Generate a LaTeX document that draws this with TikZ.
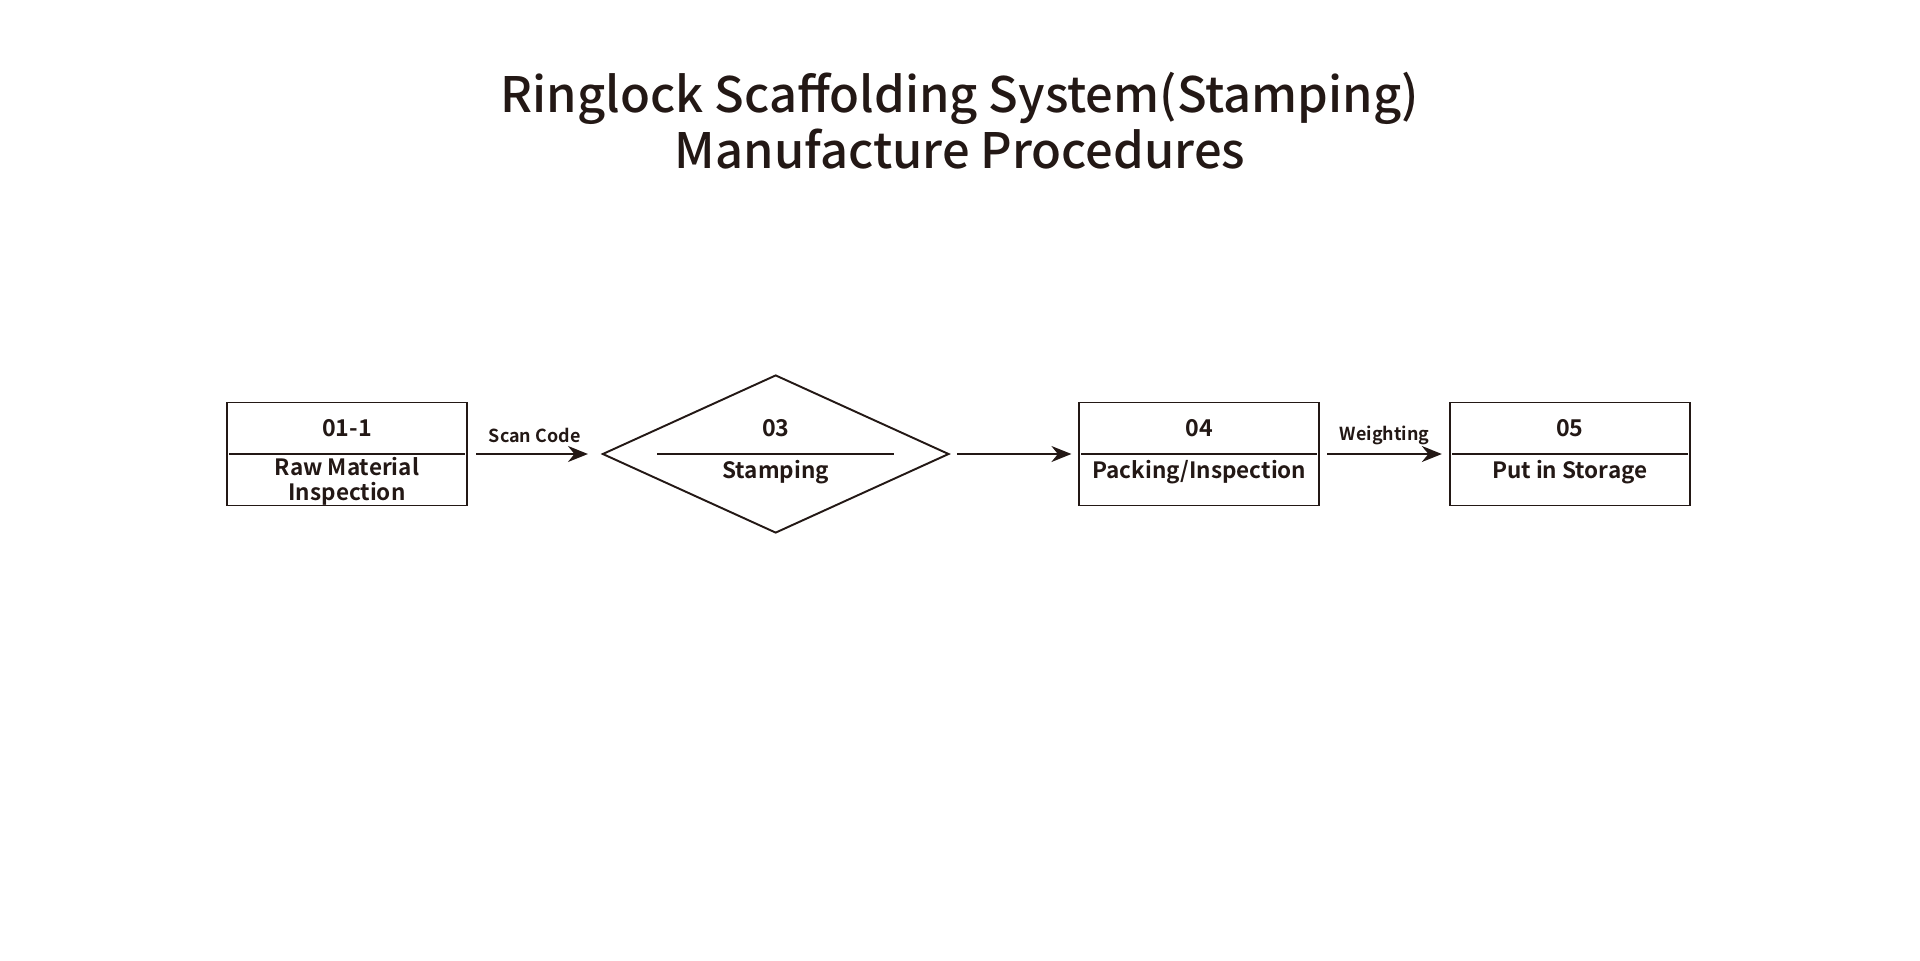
\documentclass[tikz,border=0pt]{standalone}
\usepackage{fontspec}
\setmainfont{Noto Sans CJK SC Medium}
\newfontfamily\heavyfont{Noto Sans CJK SC Bold}
\usepackage{xcolor}
\usepackage{tikz}
\usetikzlibrary{arrows.meta,positioning,shapes.geometric}
\definecolor{Ink}{HTML}{231815}
\tikzset{
  stage/.style={draw=Ink,line width=0.55pt,minimum width=2.4cm,minimum height=1.03cm,inner sep=0pt},
  decide/.style={diamond,draw=Ink,line width=0.55pt,minimum width=3.465cm,minimum height=1.58cm,inner sep=0pt},
  divider/.style={draw=Ink,line width=0.55pt},
  stagenum/.style={font=\heavyfont\fontsize{6.6}{7.5}\selectfont,text=Ink,inner sep=0pt},
  stagename/.style={font=\heavyfont\fontsize{6.4}{7}\selectfont,text=Ink,align=center,inner sep=0pt},
  arrow/.style={-{Stealth[length=2mm,width=1.6mm]},line width=0.55pt,draw=Ink},
  steplabel/.style={font=\heavyfont\fontsize{5.1}{6}\selectfont,text=Ink,inner sep=0pt},
  title/.style={font=\fontsize{13.9}{16}\selectfont,text=Ink,align=center}
}
\begin{document}
\begin{tikzpicture}
  \useasboundingbox (0,0) rectangle (19.2,9.6);
  \node[title] (head) at (9.6,8.39) {Ringlock Scaffolding System(Stamping)\\Manufacture Procedures};

  \node[stage] (raw) at (3.47,5.06) {};
  \node[decide,right=1.335cm of raw] (stamp) {};
  \node[stage,right=1.285cm of stamp] (pack) {};
  \node[stage,right=1.285cm of pack] (store) {};

  % dividers
  \draw[divider] ([xshift=0.3mm]raw.west) -- ([xshift=-0.3mm]raw.east);
  \draw[divider] ([xshift=5.6mm]stamp.west) -- ([xshift=-5.6mm]stamp.east);
  \draw[divider] ([xshift=0.3mm]pack.west) -- ([xshift=-0.3mm]pack.east);
  \draw[divider] ([xshift=0.3mm]store.west) -- ([xshift=-0.3mm]store.east);

  % texts
  \node[stagenum,above=2.6mm of raw.center,anchor=center] (rawnum) {01-1};
  \node[stagename,below=2.7mm of raw.center,anchor=center] (rawname) {Raw Material\\Inspection};
  \node[stagenum,above=2.6mm of stamp.center,anchor=center] (stampnum) {03};
  \node[stagename,below=1.85mm of stamp.center,anchor=center] (stampname) {Stamping};
  \node[stagenum,above=2.6mm of pack.center,anchor=center] (packnum) {04};
  \node[stagename,below=1.85mm of pack.center,anchor=center] (packname) {Packing/Inspection};
  \node[stagenum,above=2.6mm of store.center,anchor=center] (storenum) {05};
  \node[stagename,below=1.85mm of store.center,anchor=center] (storename) {Put in Storage};

  % connectors
  \draw[arrow,shorten <=0.85mm,shorten >=1.35mm] (raw) -- node[steplabel,above=1.9mm,anchor=center] {Scan Code} (stamp);
  \draw[arrow,shorten <=0.7mm,shorten >=0.7mm] (stamp) -- (pack);
  \draw[arrow,shorten <=0.7mm,shorten >=0.7mm] (pack) -- node[steplabel,above=1.9mm,anchor=center] {Weighting} (store);
\end{tikzpicture}
\end{document}
